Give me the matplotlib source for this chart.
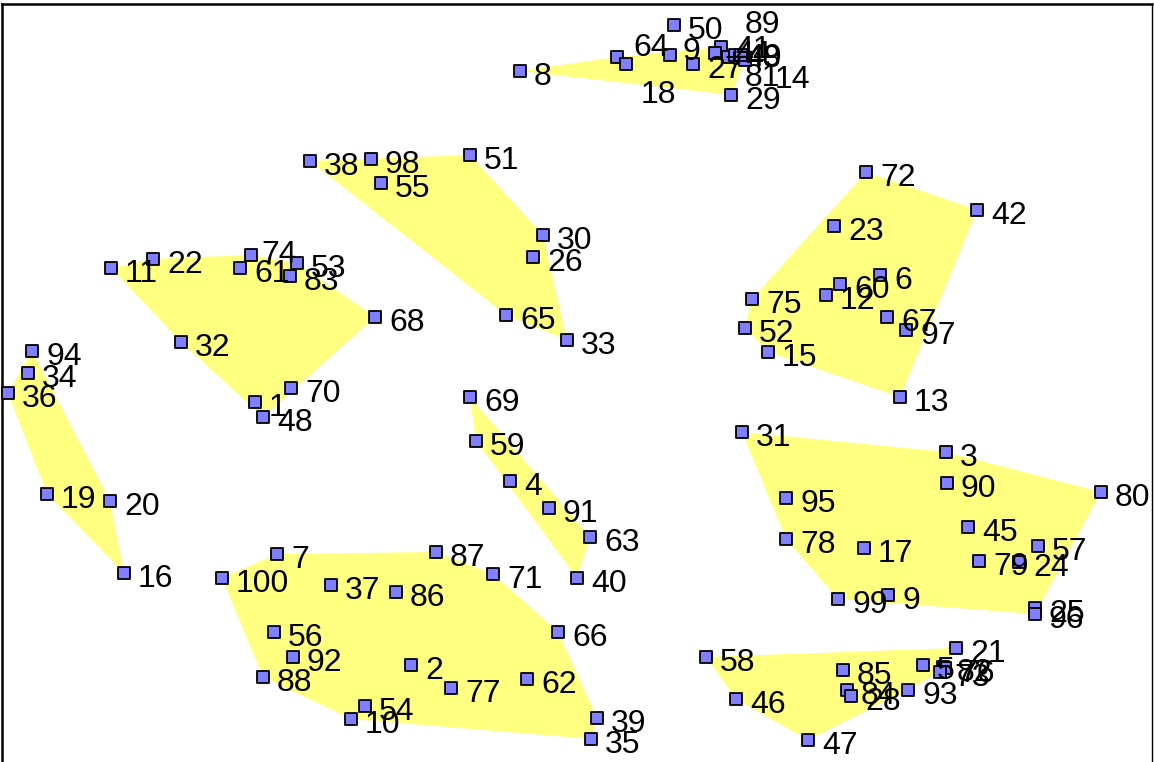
import matplotlib
matplotlib.use("Agg")
import matplotlib.pyplot as plt
from matplotlib.patches import Polygon

plt.rcParams['font.family'] = ['Liberation Sans', 'DejaVu Sans']

# ---- data: point id, position (x, y with y growing downward) and group ----
ids = [8, 64, 18, 9, 27, 41, 44, 43, 49, 81, 14, 29, 50, 89,
       38, 98, 55, 51, 30, 26, 65, 33,
       11, 22, 74, 61, 53, 83, 68, 32, 70, 1, 48,
       94, 34, 36, 19, 20, 16,
       69, 59, 4, 91, 63, 40,
       7, 87, 71, 100, 37, 86, 66, 56, 92, 2, 88, 77, 62, 54, 10, 39, 35,
       72, 42, 23, 60, 6, 75, 12, 67, 52, 97, 15, 13,
       31, 3, 90, 80, 95, 45, 57, 78, 17, 79, 24, 99, 9, 25, 96,
       58, 46, 47, 85, 84, 28, 93, 21, 5, 82, 76, 73]
xs = [520, 617, 626, 670, 693, 721, 715, 728, 735, 740, 745, 731, 674, 741,
      310, 371, 381, 470, 543, 533, 506, 567,
      111, 153, 251, 240, 297, 290, 375, 181, 291, 255, 263,
      32, 28, 8, 47, 110, 124,
      470, 476, 510, 549, 590, 577,
      277, 436, 493, 222, 331, 396, 558, 274, 293, 411, 263, 451, 527, 365, 351, 597, 591,
      866, 977, 834, 840, 880, 752, 826, 887, 745, 906, 768, 900,
      742, 946, 947, 1101, 786, 968, 1038, 786, 864, 979, 1019, 838, 888, 1035, 1035,
      706, 736, 808, 843, 847, 851, 908, 956, 923, 943, 945, 940]
ys = [71, 57, 64, 55, 64, 47, 53, 57, 55, 58, 60, 95, 25, 55,
      161, 159, 183, 155, 235, 257, 315, 340,
      268, 259, 255, 268, 263, 276, 317, 342, 388, 402, 417,
      351, 373, 393, 494, 501, 573,
      397, 441, 481, 508, 537, 578,
      554, 552, 574, 578, 585, 592, 632, 632, 657, 665, 677, 688, 679, 706, 719, 718, 739,
      172, 210, 226, 284, 275, 299, 295, 317, 328, 330, 352, 397,
      432, 452, 483, 492, 498, 527, 546, 539, 548, 561, 562, 599, 595, 608, 614,
      657, 699, 740, 670, 690, 696, 690, 648, 665, 667, 668, 672]
groups = ['A'] * 12 + ['A2'] * 2 + ['B'] * 8 + ['C'] * 11 + ['D'] * 6 + ['E'] * 6 + \
         ['F'] * 17 + ['G'] * 12 + ['H'] * 15 + ['I'] * 12

# label offsets (pixels, right/up) for labels pushed away from crowded spots
default_offset = (14, -6)
label_offsets = {64: (16, 9), 18: (15, -31), 41: (14, -3), 44: (20, -2),
                 43: (17, -2), 49: (11, -3),
                 89: (4, 30), 81: (5, -20), 14: (30, -20), 74: (10, 0)}
label_offsets_by_index = {3: (13, 3)}

POINT_FILL = '#8080ff'
HULL_FILL = '#ffff80'


def convex_hull(pts):
    pts = sorted(set(pts))
    if len(pts) < 3:
        return pts

    def cross(o, a, b):
        return (a[0] - o[0]) * (b[1] - o[1]) - (a[1] - o[1]) * (b[0] - o[0])

    lower, upper = [], []
    for p in pts:
        while len(lower) >= 2 and cross(lower[-2], lower[-1], p) <= 0:
            lower.pop()
        lower.append(p)
    for p in reversed(pts):
        while len(upper) >= 2 and cross(upper[-2], upper[-1], p) <= 0:
            upper.pop()
        upper.append(p)
    return lower[:-1] + upper[:-1]


W, H = 1154, 762
fig = plt.figure(figsize=(W / 100, H / 100), dpi=100)
ax = fig.add_axes([2 / W, -10 / H, 1150 / W, (H + 6) / H])
ax.set_xlim(2, 1152)
ax.set_ylim(772, 4)
ax.set_xticks([])
ax.set_yticks([])
for side, sp in ax.spines.items():
    sp.set_linewidth(1.0 if side == 'right' else 1.8)
    sp.set_color('black')

# cluster hulls
for g in sorted(set(groups)):
    members = [(x, y) for x, y, gg in zip(xs, ys, groups) if gg == g]
    hull = convex_hull(members)
    if len(hull) >= 3:
        ax.add_patch(Polygon(hull, closed=True, facecolor=HULL_FILL,
                             edgecolor='none', zorder=1))

# points
ax.scatter(xs, ys, s=76, marker='s', facecolor=POINT_FILL,
           edgecolor='black', linewidth=1.3, zorder=3, clip_on=False)

# labels
for i, (pid, x, y) in enumerate(zip(ids, xs, ys)):
    dx, dy = label_offsets_by_index.get(i, label_offsets.get(pid, default_offset))
    ax.annotate(str(pid), (x, y), xytext=(dx, dy), textcoords='offset pixels',
                ha='left', va='center', fontsize=23, color='black', zorder=4,
                annotation_clip=False)

fig.savefig('out.png', dpi=100)
